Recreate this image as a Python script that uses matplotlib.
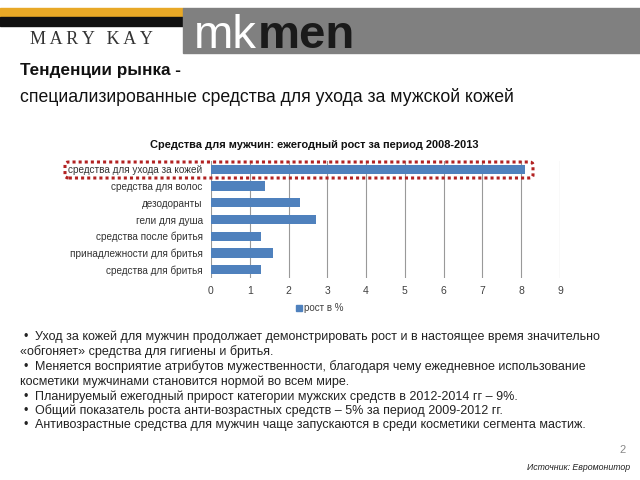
import matplotlib
matplotlib.use("Agg")
from matplotlib import pyplot as plt
from matplotlib.patches import Rectangle, FancyBboxPatch

plt.rcParams['font.family'] = ['Liberation Sans', 'DejaVu Sans']

categories = ["средства для ухода за кожей", "средства для волос", "дезодоранты",
              "гели для душа", "средства после бритья", "принадлежности для бритья",
              "средства для бритья"]
growth = [8.1, 1.4, 2.3, 2.7, 1.3, 1.6, 1.3]
xticks = [0, 1, 2, 3, 4, 5, 6, 7, 8, 9]

chart_title = "Средства для мужчин: ежегодный рост за период 2008-2013"
legend_label = "рост в %"
bullets = [
    ("•", "Уход за кожей для мужчин продолжает демонстрировать рост и в настоящее время значительно"),
    ("", "«обгоняет» средства для гигиены и бритья."),
    ("•", "Меняется восприятие атрибутов мужественности, благодаря чему ежедневное использование"),
    ("", "косметики мужчинами становится нормой во всем мире."),
    ("•", "Планируемый ежегодный прирост категории мужских средств в 2012-2014 гг – 9%."),
    ("•", "Общий показатель роста анти-возрастных средств – 5% за период 2009-2012 гг."),
    ("•", "Антивозрастные средства для мужчин чаще запускаются в среди косметики сегмента мастиж."),
]
bullet_y = [337, 352, 367, 382, 397, 411, 425]

W, H = 640, 480

def px(x, y):
    return x / W, 1 - y / H

fig = plt.figure(figsize=(6.4, 4.8), dpi=100)

# header strip / logo
fig.patches.append(Rectangle(px(0, 17), 183 / W, 9 / H, transform=fig.transFigure,
                             color="#e8a826", zorder=0))
fig.patches.append(Rectangle(px(0, 26), 183 / W, 9 / H, transform=fig.transFigure,
                             color="#111111", zorder=0))
fig.patches.append(Rectangle(px(183, 53), (W - 183) / W, 45 / H, transform=fig.transFigure,
                             color="#808080", zorder=0))
fig.text(*px(30, 39), "\u2009".join("MARY") + "\u2009 \u2009" + "\u2009".join("KAY"),
         fontsize=13, family="Liberation Serif", color="#333333", va="center", ha="left")
fig.text(*px(194, 48), "mk", fontsize=34, color="white", va="baseline", ha="left")
fig.text(*px(258, 48), "men", fontsize=34, color="#1a1a1a", fontweight="bold",
         va="baseline", ha="left")

# titles
fig.text(*px(20, 70), "Тенденции рынка -", fontsize=12.3, fontweight="bold",
         color="#111111", va="center", ha="left")
fig.text(*px(20, 97), "специализированные средства для ухода за мужской кожей",
         fontsize=12.7, color="#111111", va="center", ha="left")

# chart
ax = fig.add_axes([211 / W, 1 - 278 / H, 349 / W, 117 / H])
ypos = list(range(len(categories)))
ax.barh(ypos, growth, height=0.55, color="#4f81bd", zorder=3)
ax.set_ylim(len(categories) - 0.5, -0.5)
ax.set_xlim(0, 9)
ax.set_xticks(xticks)
ax.set_xticklabels([str(t) for t in xticks], fontsize=7.5, color="#404040")
ax.set_yticks(ypos)
ax.set_yticklabels(categories, fontsize=7.2, color="#333333")
ax.tick_params(length=0, pad=6)
ax.grid(axis="x", color="#999999", linewidth=0.8, zorder=0)
for s in ax.spines.values():
    s.set_visible(False)

fig.text(*px(314, 145), chart_title, fontsize=7.9, fontweight="bold",
         color="#111111", va="center", ha="center")

# dotted highlight around the first row
fig.patches.append(FancyBboxPatch(px(65, 178), (533 - 65) / W, 16 / H,
                                  boxstyle="round,pad=0,rounding_size=0.006",
                                  transform=fig.transFigure, fill=False,
                                  edgecolor="#b22222", linestyle=(0, (1, 1)),
                                  linewidth=2.2, zorder=5))

# legend
fig.patches.append(Rectangle(px(296, 311), 6 / W, 6 / H, transform=fig.transFigure,
                             color="#4f81bd"))
fig.text(*px(304, 308), legend_label, fontsize=7, color="#404040", va="center", ha="left")

# bullet text
for (mark, txt), y in zip(bullets, bullet_y):
    if mark:
        fig.text(*px(24, y), mark, fontsize=9, color="#222222", va="center", ha="left")
        fig.text(*px(35, y), txt, fontsize=9, color="#222222", va="center", ha="left")
    else:
        fig.text(*px(20, y), txt, fontsize=9, color="#222222", va="center", ha="left")

fig.text(*px(626, 450), "2", fontsize=8, color="#888888", va="center", ha="right")
fig.text(*px(630, 467), "Источник: Евромонитор", fontsize=6.3, style="italic",
         color="#222222", va="center", ha="right")

fig.savefig("out.png", dpi=100)
